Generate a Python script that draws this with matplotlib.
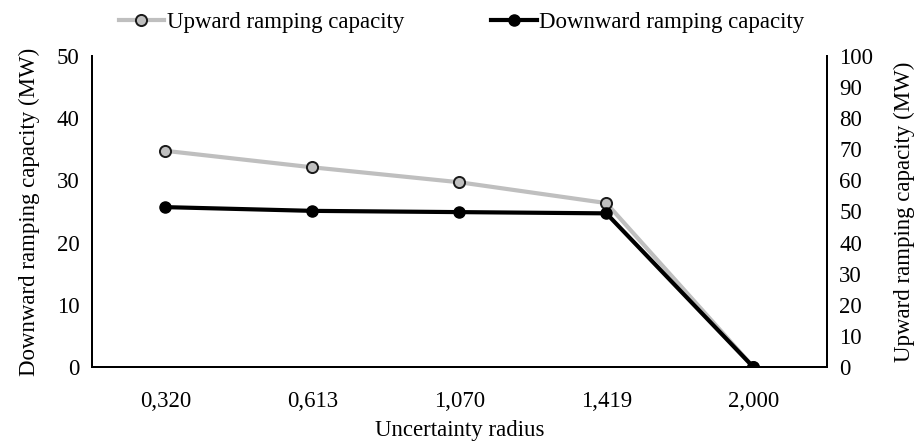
import matplotlib.pyplot as plt
from matplotlib.lines import Line2D

plt.rcParams["font.family"] = ["Liberation Serif", "DejaVu Serif"]

radius = ["0,320", "0,613", "1,070", "1,419", "2,000"]
upward = [69.5, 64.2, 59.4, 52.7, 0.0]      # MW, right axis
downward = [25.7, 25.1, 24.9, 24.7, 0.0]    # MW, left axis

FS = 16.5
fig = plt.figure(figsize=(9.23, 4.43), dpi=100)
ax = fig.add_axes([0.0997, 0.1716, 0.796, 0.702])
ax2 = ax.twinx()
x = list(range(len(radius)))

ax2.plot(x, upward, "-o", color="#BFBFBF", lw=3, ms=8,
         mfc="#BFBFBF", mec="#1a1a1a", mew=1.4)
ax.plot(x, downward, "-o", color="black", lw=3, ms=8, mfc="black", mec="black")
ax.set_zorder(ax2.get_zorder() + 1)
ax.patch.set_visible(False)

ax.set_xlim(-0.5, len(radius) - 0.5)
ax.set_xticks(x, radius)
ax.set_ylim(0, 50)
ax.set_yticks(range(0, 51, 10))
ax2.set_ylim(0, 100)
ax2.set_yticks(range(0, 101, 10))

for a in (ax, ax2):
    a.spines["top"].set_visible(False)
    for s in ("left", "right", "bottom"):
        a.spines[s].set_linewidth(1.4)
    a.tick_params(length=0, labelsize=FS, pad=9)
ax.tick_params(axis="x", pad=17)

ax.set_xlabel("Uncertainty radius", fontsize=FS, labelpad=6)
ax.set_ylabel("Downward ramping capacity (MW)", fontsize=FS, labelpad=12)
ax2.set_ylabel("Upward ramping capacity (MW)", fontsize=FS, labelpad=15)

handles = [
    Line2D([], [], color="#BFBFBF", lw=3, marker="o", ms=8,
           mfc="#BFBFBF", mec="#1a1a1a", mew=1.4),
    Line2D([], [], color="black", lw=3, marker="o", ms=8, mfc="black"),
]
fig.legend(handles, ["Upward ramping capacity", "Downward ramping capacity"],
           loc="center", bbox_to_anchor=(0.5, 0.95), ncol=2, frameon=False,
           fontsize=FS, handlelength=2.0, handletextpad=0.1, columnspacing=3.8)

fig.savefig("out.png", dpi=100)
